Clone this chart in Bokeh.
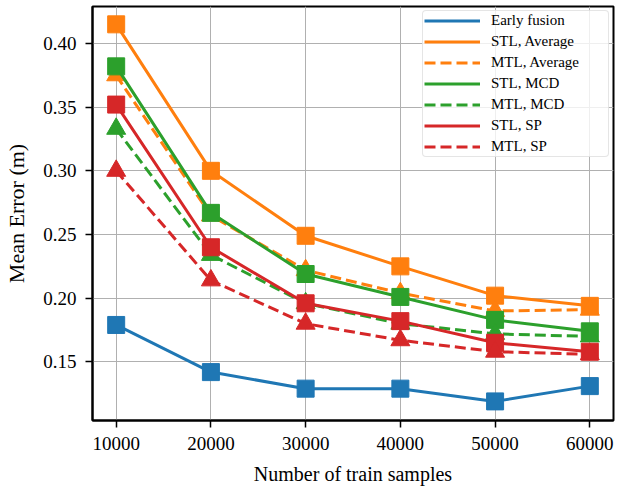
from bokeh.plotting import figure
from bokeh.models import (Range1d, FixedTicker, NumeralTickFormatter, Legend,
                          LegendItem)
from bokeh.embed import file_html
from bokeh.resources import INLINE

# Training set sizes
samples = [10000, 20000, 30000, 40000, 50000, 60000]

# Mean error (m) per method
early_fusion = [0.179, 0.142, 0.129, 0.129, 0.119, 0.131]
stl_average = [0.415, 0.300, 0.249, 0.225, 0.202, 0.194]
mtl_average = [0.375, 0.265, 0.222, 0.204, 0.190, 0.191]
stl_mcd = [0.382, 0.267, 0.219, 0.201, 0.183, 0.174]
mtl_mcd = [0.333, 0.234, 0.196, 0.180, 0.172, 0.170]
stl_sp = [0.352, 0.240, 0.196, 0.182, 0.165, 0.158]
mtl_sp = [0.300, 0.214, 0.180, 0.167, 0.158, 0.156]

y_ticks = [0.15, 0.20, 0.25, 0.30, 0.35, 0.40]

BLUE, ORANGE, GREEN, RED = "#1f77b4", "#ff7f0e", "#2ca02c", "#d62728"
FONT = "Liberation Serif"

series = [
    ("Early fusion", early_fusion, BLUE, "solid", "square"),
    ("STL, Average", stl_average, ORANGE, "solid", "square"),
    ("MTL, Average", mtl_average, ORANGE, "11 5", "triangle"),
    ("STL, MCD", stl_mcd, GREEN, "solid", "square"),
    ("MTL, MCD", mtl_mcd, GREEN, "11 5", "triangle"),
    ("STL, SP", stl_sp, RED, "solid", "square"),
    ("MTL, SP", mtl_sp, RED, "11 5", "triangle"),
]

p = figure(width=617, height=487, output_backend="svg", toolbar_location=None,
           x_range=Range1d(7500, 62500), y_range=Range1d(0.104, 0.429),
           min_border_left=92, min_border_right=4, min_border_top=6,
           min_border_bottom=66)
p.background_fill_color = "white"
p.border_fill_color = "white"
p.outline_line_color = "black"
p.outline_line_width = 2
p.outline_line_alpha = 1

items = []
for label, vals, color, dash, marker in series:
    r = p.line(samples, vals, line_color=color, line_width=3, line_dash=dash,
               line_join="round")
    p.scatter(samples, vals, marker=marker, size=17 if marker == "square" else 19,
              fill_color=color, line_color=color, line_width=1)
    items.append(LegendItem(label=label, renderers=[r]))

for ax in (p.xaxis[0], p.yaxis[0]):
    ax.axis_line_color = "black"
    ax.axis_line_width = 2
    ax.major_tick_line_color = "black"
    ax.major_tick_line_width = 1.5
    ax.major_tick_out = 7
    ax.major_tick_in = 0
    ax.minor_tick_line_color = None
    ax.major_label_text_font = FONT
    ax.major_label_text_font_size = "19px"
    ax.major_label_text_color = "black"
    ax.major_label_standoff = 9
    ax.axis_label_text_font = FONT
    ax.axis_label_text_font_style = "normal"
    ax.axis_label_text_color = "black"

p.xaxis.ticker = FixedTicker(ticks=samples)
p.yaxis.ticker = FixedTicker(ticks=y_ticks)
p.yaxis.formatter = NumeralTickFormatter(format="0.00")
p.xaxis.axis_label = "Number of train samples"
p.yaxis.axis_label = "Mean Error (m)"
p.xaxis.axis_label_text_font_size = "20px"
p.yaxis.axis_label_text_font_size = "22px"
p.xaxis.axis_label_standoff = 10
p.yaxis.axis_label_standoff = 11

p.xgrid.ticker = FixedTicker(ticks=samples)
p.ygrid.ticker = FixedTicker(ticks=y_ticks)
for g in (p.xgrid[0], p.ygrid[0]):
    g.grid_line_color = "#b0b0b0"
    g.grid_line_width = 1

legend = Legend(items=items, location="top_right")
legend.margin = 4
legend.padding = 1
legend.spacing = 4
legend.glyph_width = 56
legend.glyph_height = 15
legend.label_height = 15
legend.label_width = 116
legend.label_standoff = 11
legend.label_text_font = FONT
legend.label_text_font_size = "15px"
legend.label_text_color = "black"
legend.border_line_color = "#cccccc"
legend.border_line_width = 1.5
legend.border_radius = 4
legend.background_fill_color = "white"
legend.background_fill_alpha = 0.8
p.add_layout(legend)

open("out.html", "w").write(file_html(p, INLINE))
